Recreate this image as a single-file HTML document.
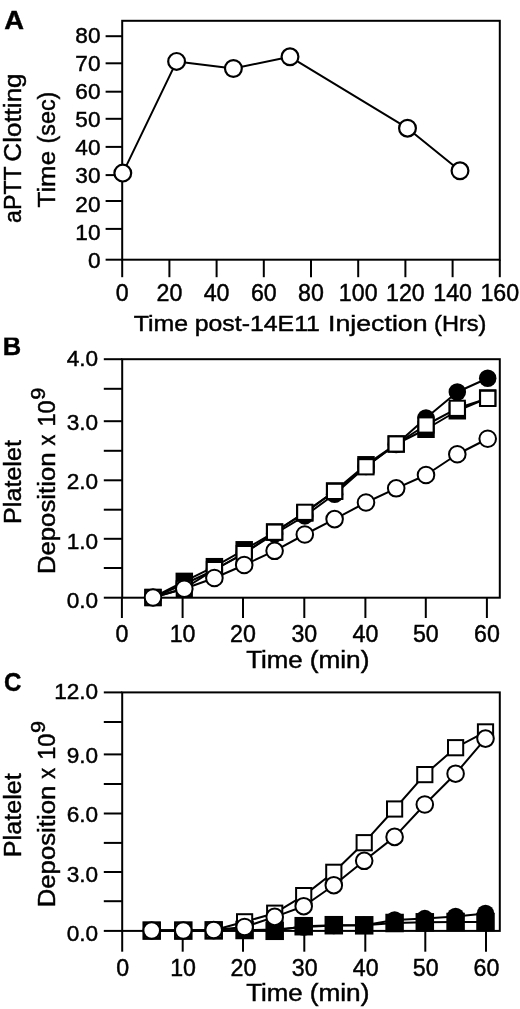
<!DOCTYPE html>
<html><head><meta charset="utf-8"><title>Figure</title>
<style>
html,body{margin:0;padding:0;background:#fff;}
svg{display:block;will-change:transform;}
text{font-family:"Liberation Sans",sans-serif;fill:#000;stroke:#000;stroke-width:0.45px;}
text[font-weight]{stroke-width:0.4px;}
</style></head><body>
<svg width="520" height="1009" viewBox="0 0 520 1009">
<rect x="0" y="0" width="520" height="1009" fill="#fff"/>
<rect x="122.2" y="20.8" width="377.60" height="238.90" fill="none" stroke="#000" stroke-width="2"/>
<line x1="105.60" y1="36.20" x2="122.20" y2="36.20" stroke="#000" stroke-width="2"/>
<text x="100.50" y="43.10" font-size="22.6" text-anchor="end">80</text>
<line x1="105.60" y1="63.30" x2="122.20" y2="63.30" stroke="#000" stroke-width="2"/>
<text x="100.50" y="71.17" font-size="22.6" text-anchor="end">70</text>
<line x1="105.60" y1="91.70" x2="122.20" y2="91.70" stroke="#000" stroke-width="2"/>
<text x="100.50" y="99.24" font-size="22.6" text-anchor="end">60</text>
<line x1="105.60" y1="118.80" x2="122.20" y2="118.80" stroke="#000" stroke-width="2"/>
<text x="100.50" y="127.31" font-size="22.6" text-anchor="end">50</text>
<line x1="105.60" y1="146.90" x2="122.20" y2="146.90" stroke="#000" stroke-width="2"/>
<text x="100.50" y="155.38" font-size="22.6" text-anchor="end">40</text>
<line x1="105.60" y1="175.10" x2="122.20" y2="175.10" stroke="#000" stroke-width="2"/>
<text x="100.50" y="183.45" font-size="22.6" text-anchor="end">30</text>
<line x1="105.60" y1="201.00" x2="122.20" y2="201.00" stroke="#000" stroke-width="2"/>
<text x="100.50" y="211.52" font-size="22.6" text-anchor="end">20</text>
<line x1="105.60" y1="228.90" x2="122.20" y2="228.90" stroke="#000" stroke-width="2"/>
<text x="100.50" y="239.59" font-size="22.6" text-anchor="end">10</text>
<line x1="105.60" y1="259.70" x2="122.20" y2="259.70" stroke="#000" stroke-width="2"/>
<text x="100.50" y="267.66" font-size="22.6" text-anchor="end">0</text>
<line x1="122.20" y1="259.70" x2="122.20" y2="277.20" stroke="#000" stroke-width="2"/>
<text x="122.20" y="301.10" font-size="23.2" text-anchor="middle">0</text>
<line x1="169.40" y1="259.70" x2="169.40" y2="277.20" stroke="#000" stroke-width="2"/>
<text x="169.40" y="301.10" font-size="23.2" text-anchor="middle">20</text>
<line x1="216.60" y1="259.70" x2="216.60" y2="277.20" stroke="#000" stroke-width="2"/>
<text x="216.60" y="301.10" font-size="23.2" text-anchor="middle">40</text>
<line x1="263.80" y1="259.70" x2="263.80" y2="277.20" stroke="#000" stroke-width="2"/>
<text x="263.80" y="301.10" font-size="23.2" text-anchor="middle">60</text>
<line x1="311.00" y1="259.70" x2="311.00" y2="277.20" stroke="#000" stroke-width="2"/>
<text x="311.00" y="301.10" font-size="23.2" text-anchor="middle">80</text>
<line x1="358.20" y1="259.70" x2="358.20" y2="277.20" stroke="#000" stroke-width="2"/>
<text x="358.20" y="301.10" font-size="23.2" text-anchor="middle">100</text>
<line x1="405.40" y1="259.70" x2="405.40" y2="277.20" stroke="#000" stroke-width="2"/>
<text x="405.40" y="301.10" font-size="23.2" text-anchor="middle">120</text>
<line x1="452.60" y1="259.70" x2="452.60" y2="277.20" stroke="#000" stroke-width="2"/>
<text x="452.60" y="301.10" font-size="23.2" text-anchor="middle">140</text>
<line x1="499.80" y1="259.70" x2="499.80" y2="277.20" stroke="#000" stroke-width="2"/>
<text x="499.80" y="301.10" font-size="23.2" text-anchor="middle">160</text>
<text x="133.65" y="331.20" font-size="22.6" textLength="54.43" lengthAdjust="spacingAndGlyphs">Time</text>
<text x="194.71" y="331.20" font-size="22.6" textLength="125.22" lengthAdjust="spacingAndGlyphs">post-14E11</text>
<text x="328.02" y="331.20" font-size="22.6" textLength="99.53" lengthAdjust="spacingAndGlyphs">Injection</text>
<text x="434.14" y="331.20" font-size="22.6" textLength="52.32" lengthAdjust="spacingAndGlyphs">(Hrs)</text>
<text transform="translate(20.50 222.89) rotate(-90)" font-size="23.3" textLength="56.66" lengthAdjust="spacingAndGlyphs">aPTT</text>
<text transform="translate(20.50 161.64) rotate(-90)" font-size="23.3" textLength="88.21" lengthAdjust="spacingAndGlyphs">Clotting</text>
<text transform="translate(54.70 207.45) rotate(-90)" font-size="23.3" textLength="56.48" lengthAdjust="spacingAndGlyphs">Time</text>
<text transform="translate(54.70 143.40) rotate(-90)" font-size="23.3" textLength="51.78" lengthAdjust="spacingAndGlyphs">(sec)</text>
<text x="4.34" y="29.00" font-size="25" textLength="19.77" lengthAdjust="spacingAndGlyphs" font-weight="bold">A</text>
<polyline points="122.80,173.10 176.60,61.40 233.40,68.50 290.00,56.80 407.50,128.20 460.00,170.80" fill="none" stroke="#000" stroke-width="2" stroke-linejoin="round"/>
<circle cx="122.80" cy="173.10" r="8.4" fill="#fff" stroke="#000" stroke-width="2.2"/>
<circle cx="176.60" cy="61.40" r="8.4" fill="#fff" stroke="#000" stroke-width="2.2"/>
<circle cx="233.40" cy="68.50" r="8.4" fill="#fff" stroke="#000" stroke-width="2.2"/>
<circle cx="290.00" cy="56.80" r="8.4" fill="#fff" stroke="#000" stroke-width="2.2"/>
<circle cx="407.50" cy="128.20" r="8.4" fill="#fff" stroke="#000" stroke-width="2.2"/>
<circle cx="460.00" cy="170.80" r="8.4" fill="#fff" stroke="#000" stroke-width="2.2"/>
<rect x="122.2" y="359.20" width="377.60" height="238.50" fill="none" stroke="#000" stroke-width="2"/>
<line x1="103.80" y1="359.20" x2="122.20" y2="359.20" stroke="#000" stroke-width="2"/>
<line x1="103.80" y1="388.80" x2="122.20" y2="388.80" stroke="#000" stroke-width="2"/>
<line x1="103.80" y1="421.20" x2="122.20" y2="421.20" stroke="#000" stroke-width="2"/>
<line x1="103.80" y1="450.80" x2="122.20" y2="450.80" stroke="#000" stroke-width="2"/>
<line x1="103.80" y1="480.30" x2="122.20" y2="480.30" stroke="#000" stroke-width="2"/>
<line x1="103.80" y1="509.70" x2="122.20" y2="509.70" stroke="#000" stroke-width="2"/>
<line x1="103.80" y1="538.80" x2="122.20" y2="538.80" stroke="#000" stroke-width="2"/>
<line x1="103.80" y1="568.00" x2="122.20" y2="568.00" stroke="#000" stroke-width="2"/>
<line x1="103.80" y1="597.70" x2="122.20" y2="597.70" stroke="#000" stroke-width="2"/>
<text x="98.20" y="365.80" font-size="22.6" text-anchor="end">4.0</text>
<text x="98.20" y="430.00" font-size="22.6" text-anchor="end">3.0</text>
<text x="98.20" y="489.20" font-size="22.6" text-anchor="end">2.0</text>
<text x="98.20" y="548.90" font-size="22.6" text-anchor="end">1.0</text>
<text x="98.20" y="608.00" font-size="22.6" text-anchor="end">0.0</text>
<line x1="121.90" y1="597.70" x2="121.90" y2="618.00" stroke="#000" stroke-width="2"/>
<text x="121.90" y="641.80" font-size="23.2" text-anchor="middle">0</text>
<line x1="182.60" y1="597.70" x2="182.60" y2="618.00" stroke="#000" stroke-width="2"/>
<text x="182.60" y="641.80" font-size="23.2" text-anchor="middle">10</text>
<line x1="243.00" y1="597.70" x2="243.00" y2="618.00" stroke="#000" stroke-width="2"/>
<text x="243.00" y="641.80" font-size="23.2" text-anchor="middle">20</text>
<line x1="304.30" y1="597.70" x2="304.30" y2="618.00" stroke="#000" stroke-width="2"/>
<text x="304.30" y="641.80" font-size="23.2" text-anchor="middle">30</text>
<line x1="365.40" y1="597.70" x2="365.40" y2="618.00" stroke="#000" stroke-width="2"/>
<text x="365.40" y="641.80" font-size="23.2" text-anchor="middle">40</text>
<line x1="425.80" y1="597.70" x2="425.80" y2="618.00" stroke="#000" stroke-width="2"/>
<text x="425.80" y="641.80" font-size="23.2" text-anchor="middle">50</text>
<line x1="486.90" y1="597.70" x2="486.90" y2="618.00" stroke="#000" stroke-width="2"/>
<text x="486.90" y="641.80" font-size="23.2" text-anchor="middle">60</text>
<text x="246.15" y="667.50" font-size="23.3" textLength="56.48" lengthAdjust="spacingAndGlyphs">Time</text>
<text x="309.72" y="667.50" font-size="23.3" textLength="59.72" lengthAdjust="spacingAndGlyphs">(min)</text>
<text transform="translate(20.80 523.95) rotate(-90)" font-size="23.3" textLength="83.88" lengthAdjust="spacingAndGlyphs">Platelet</text>
<text transform="translate(54.80 574.10) rotate(-90)" font-size="23.3" textLength="121.65" lengthAdjust="spacingAndGlyphs">Deposition</text>
<text transform="translate(54.80 445.48) rotate(-90)" font-size="23.3" textLength="10.92" lengthAdjust="spacingAndGlyphs">x</text>
<text transform="translate(54.80 426.62) rotate(-90)" font-size="23.3" textLength="26.19" lengthAdjust="spacingAndGlyphs">10</text>
<text transform="translate(45.00 399.86) rotate(-90)" font-size="20.4" textLength="12.06" lengthAdjust="spacingAndGlyphs">9</text>
<text x="2.67" y="354.50" font-size="25" textLength="18.41" lengthAdjust="spacingAndGlyphs" font-weight="bold">B</text>
<rect x="0" y="333" width="30" height="4.6" fill="#fff"/>
<polyline points="153.00,597.50 184.30,584.00 214.40,570.00 244.20,553.00 274.60,534.00 304.80,515.90 334.60,494.30 366.00,466.50 396.20,444.50 426.00,418.00 457.30,392.00 487.70,378.25" fill="none" stroke="#000" stroke-width="2" stroke-linejoin="round"/>
<polyline points="153.00,597.50 184.30,581.40 214.40,566.70 244.20,549.80 274.60,532.00 304.80,513.00 334.60,491.00 366.00,464.80 396.20,444.00 426.00,429.25 457.30,410.75 487.70,398.00" fill="none" stroke="#000" stroke-width="2" stroke-linejoin="round"/>
<circle cx="153.00" cy="597.50" r="8.75" fill="#000"/>
<circle cx="184.30" cy="584.00" r="8.75" fill="#000"/>
<circle cx="214.40" cy="570.00" r="8.75" fill="#000"/>
<circle cx="244.20" cy="553.00" r="8.75" fill="#000"/>
<circle cx="274.60" cy="534.00" r="8.75" fill="#000"/>
<circle cx="304.80" cy="515.90" r="8.75" fill="#000"/>
<circle cx="334.60" cy="494.30" r="8.75" fill="#000"/>
<circle cx="366.00" cy="466.50" r="8.75" fill="#000"/>
<circle cx="396.20" cy="444.50" r="8.75" fill="#000"/>
<circle cx="426.00" cy="418.00" r="8.75" fill="#000"/>
<circle cx="457.30" cy="392.00" r="8.75" fill="#000"/>
<circle cx="487.70" cy="378.25" r="8.75" fill="#000"/>
<rect x="144.25" y="588.75" width="17.5" height="17.5" fill="#000"/>
<rect x="175.55" y="572.65" width="17.5" height="17.5" fill="#000"/>
<rect x="205.65" y="557.95" width="17.5" height="17.5" fill="#000"/>
<rect x="235.45" y="541.05" width="17.5" height="17.5" fill="#000"/>
<rect x="265.85" y="523.25" width="17.5" height="17.5" fill="#000"/>
<rect x="296.05" y="504.25" width="17.5" height="17.5" fill="#000"/>
<rect x="325.85" y="482.25" width="17.5" height="17.5" fill="#000"/>
<rect x="357.25" y="456.05" width="17.5" height="17.5" fill="#000"/>
<rect x="387.45" y="435.25" width="17.5" height="17.5" fill="#000"/>
<rect x="417.25" y="420.50" width="17.5" height="17.5" fill="#000"/>
<rect x="448.55" y="402.00" width="17.5" height="17.5" fill="#000"/>
<rect x="478.95" y="389.25" width="17.5" height="17.5" fill="#000"/>
<polyline points="153.00,597.50 184.30,588.50 214.40,569.60 244.20,553.60 274.60,532.20 304.80,512.30 334.60,491.40 366.00,466.80 396.20,444.00 426.00,425.00 457.30,408.30 487.70,398.40" fill="none" stroke="#000" stroke-width="2" stroke-linejoin="round"/>
<rect x="145.40" y="589.90" width="15.2" height="15.2" fill="#fff" stroke="#000" stroke-width="2"/>
<rect x="176.70" y="580.90" width="15.2" height="15.2" fill="#fff" stroke="#000" stroke-width="2"/>
<rect x="206.80" y="562.00" width="15.2" height="15.2" fill="#fff" stroke="#000" stroke-width="2"/>
<rect x="236.60" y="546.00" width="15.2" height="15.2" fill="#fff" stroke="#000" stroke-width="2"/>
<rect x="267.00" y="524.60" width="15.2" height="15.2" fill="#fff" stroke="#000" stroke-width="2"/>
<rect x="297.20" y="504.70" width="15.2" height="15.2" fill="#fff" stroke="#000" stroke-width="2"/>
<rect x="327.00" y="483.80" width="15.2" height="15.2" fill="#fff" stroke="#000" stroke-width="2"/>
<rect x="358.40" y="459.20" width="15.2" height="15.2" fill="#fff" stroke="#000" stroke-width="2"/>
<rect x="388.60" y="436.40" width="15.2" height="15.2" fill="#fff" stroke="#000" stroke-width="2"/>
<rect x="418.40" y="417.40" width="15.2" height="15.2" fill="#fff" stroke="#000" stroke-width="2"/>
<rect x="449.70" y="400.70" width="15.2" height="15.2" fill="#fff" stroke="#000" stroke-width="2"/>
<rect x="480.10" y="390.80" width="15.2" height="15.2" fill="#fff" stroke="#000" stroke-width="2"/>
<polyline points="153.00,597.50 184.30,588.75 214.40,578.00 244.20,565.00 274.60,550.80 304.80,534.50 334.60,519.10 366.00,502.50 396.20,488.30 426.00,475.00 457.30,454.25 487.70,438.75" fill="none" stroke="#000" stroke-width="2" stroke-linejoin="round"/>
<circle cx="153.00" cy="597.50" r="8.3" fill="#fff" stroke="#000" stroke-width="2"/>
<circle cx="184.30" cy="588.75" r="8.3" fill="#fff" stroke="#000" stroke-width="2"/>
<circle cx="214.40" cy="578.00" r="8.3" fill="#fff" stroke="#000" stroke-width="2"/>
<circle cx="244.20" cy="565.00" r="8.3" fill="#fff" stroke="#000" stroke-width="2"/>
<circle cx="274.60" cy="550.80" r="8.3" fill="#fff" stroke="#000" stroke-width="2"/>
<circle cx="304.80" cy="534.50" r="8.3" fill="#fff" stroke="#000" stroke-width="2"/>
<circle cx="334.60" cy="519.10" r="8.3" fill="#fff" stroke="#000" stroke-width="2"/>
<circle cx="366.00" cy="502.50" r="8.3" fill="#fff" stroke="#000" stroke-width="2"/>
<circle cx="396.20" cy="488.30" r="8.3" fill="#fff" stroke="#000" stroke-width="2"/>
<circle cx="426.00" cy="475.00" r="8.3" fill="#fff" stroke="#000" stroke-width="2"/>
<circle cx="457.30" cy="454.25" r="8.3" fill="#fff" stroke="#000" stroke-width="2"/>
<circle cx="487.70" cy="438.75" r="8.3" fill="#fff" stroke="#000" stroke-width="2"/>
<rect x="122.2" y="692.40" width="377.60" height="238.50" fill="none" stroke="#000" stroke-width="2"/>
<line x1="103.80" y1="692.40" x2="122.20" y2="692.40" stroke="#000" stroke-width="2"/>
<line x1="103.80" y1="722.00" x2="122.20" y2="722.00" stroke="#000" stroke-width="2"/>
<line x1="103.80" y1="754.40" x2="122.20" y2="754.40" stroke="#000" stroke-width="2"/>
<line x1="103.80" y1="784.00" x2="122.20" y2="784.00" stroke="#000" stroke-width="2"/>
<line x1="103.80" y1="813.50" x2="122.20" y2="813.50" stroke="#000" stroke-width="2"/>
<line x1="103.80" y1="842.90" x2="122.20" y2="842.90" stroke="#000" stroke-width="2"/>
<line x1="103.80" y1="872.00" x2="122.20" y2="872.00" stroke="#000" stroke-width="2"/>
<line x1="103.80" y1="901.20" x2="122.20" y2="901.20" stroke="#000" stroke-width="2"/>
<line x1="103.80" y1="930.90" x2="122.20" y2="930.90" stroke="#000" stroke-width="2"/>
<text x="98.20" y="699.00" font-size="22.6" text-anchor="end">12.0</text>
<text x="98.20" y="763.20" font-size="22.6" text-anchor="end">9.0</text>
<text x="98.20" y="822.40" font-size="22.6" text-anchor="end">6.0</text>
<text x="98.20" y="882.10" font-size="22.6" text-anchor="end">3.0</text>
<text x="98.20" y="941.20" font-size="22.6" text-anchor="end">0.0</text>
<line x1="122.20" y1="930.90" x2="122.20" y2="951.70" stroke="#000" stroke-width="2"/>
<text x="122.60" y="975.50" font-size="23.2" text-anchor="middle">0</text>
<line x1="182.70" y1="930.90" x2="182.70" y2="951.70" stroke="#000" stroke-width="2"/>
<text x="183.10" y="975.50" font-size="23.2" text-anchor="middle">10</text>
<line x1="243.00" y1="930.90" x2="243.00" y2="951.70" stroke="#000" stroke-width="2"/>
<text x="243.40" y="975.50" font-size="23.2" text-anchor="middle">20</text>
<line x1="304.30" y1="930.90" x2="304.30" y2="951.70" stroke="#000" stroke-width="2"/>
<text x="304.70" y="975.50" font-size="23.2" text-anchor="middle">30</text>
<line x1="365.30" y1="930.90" x2="365.30" y2="951.70" stroke="#000" stroke-width="2"/>
<text x="365.70" y="975.50" font-size="23.2" text-anchor="middle">40</text>
<line x1="425.30" y1="930.90" x2="425.30" y2="951.70" stroke="#000" stroke-width="2"/>
<text x="425.70" y="975.50" font-size="23.2" text-anchor="middle">50</text>
<line x1="486.00" y1="930.90" x2="486.00" y2="951.70" stroke="#000" stroke-width="2"/>
<text x="486.40" y="975.50" font-size="23.2" text-anchor="middle">60</text>
<text x="246.15" y="1000.70" font-size="23.3" textLength="56.48" lengthAdjust="spacingAndGlyphs">Time</text>
<text x="309.72" y="1000.70" font-size="23.3" textLength="59.72" lengthAdjust="spacingAndGlyphs">(min)</text>
<text transform="translate(20.80 857.15) rotate(-90)" font-size="23.3" textLength="83.88" lengthAdjust="spacingAndGlyphs">Platelet</text>
<text transform="translate(54.80 907.30) rotate(-90)" font-size="23.3" textLength="121.65" lengthAdjust="spacingAndGlyphs">Deposition</text>
<text transform="translate(54.80 778.68) rotate(-90)" font-size="23.3" textLength="10.92" lengthAdjust="spacingAndGlyphs">x</text>
<text transform="translate(54.80 759.82) rotate(-90)" font-size="23.3" textLength="26.19" lengthAdjust="spacingAndGlyphs">10</text>
<text transform="translate(45.00 733.06) rotate(-90)" font-size="20.4" textLength="12.06" lengthAdjust="spacingAndGlyphs">9</text>
<text x="4.04" y="691.30" font-size="25" textLength="17.39" lengthAdjust="spacingAndGlyphs" font-weight="bold">C</text>
<polyline points="151.70,930.50 183.30,930.50 213.70,930.50 244.60,930.30 274.70,929.50 303.70,927.00 333.80,925.50 364.20,925.30 394.60,920.00 424.80,918.60 455.60,916.40 485.50,913.40" fill="none" stroke="#000" stroke-width="2" stroke-linejoin="round"/>
<polyline points="151.70,930.60 183.30,930.60 213.70,930.40 244.60,930.00 274.70,930.80 303.70,926.20 333.80,925.20 364.20,925.30 394.60,923.00 424.80,922.30 455.60,922.00 485.50,922.00" fill="none" stroke="#000" stroke-width="2" stroke-linejoin="round"/>
<circle cx="151.70" cy="930.50" r="8.75" fill="#000"/>
<circle cx="183.30" cy="930.50" r="8.75" fill="#000"/>
<circle cx="213.70" cy="930.50" r="8.75" fill="#000"/>
<circle cx="244.60" cy="930.30" r="8.75" fill="#000"/>
<circle cx="274.70" cy="929.50" r="8.75" fill="#000"/>
<circle cx="303.70" cy="927.00" r="8.75" fill="#000"/>
<circle cx="333.80" cy="925.50" r="8.75" fill="#000"/>
<circle cx="364.20" cy="925.30" r="8.75" fill="#000"/>
<circle cx="394.60" cy="920.00" r="8.75" fill="#000"/>
<circle cx="424.80" cy="918.60" r="8.75" fill="#000"/>
<circle cx="455.60" cy="916.40" r="8.75" fill="#000"/>
<circle cx="485.50" cy="913.40" r="8.75" fill="#000"/>
<rect x="142.45" y="921.35" width="18.5" height="18.5" fill="#000"/>
<rect x="174.05" y="921.35" width="18.5" height="18.5" fill="#000"/>
<rect x="204.45" y="921.15" width="18.5" height="18.5" fill="#000"/>
<rect x="235.35" y="920.75" width="18.5" height="18.5" fill="#000"/>
<rect x="265.45" y="921.55" width="18.5" height="18.5" fill="#000"/>
<rect x="294.45" y="916.95" width="18.5" height="18.5" fill="#000"/>
<rect x="324.55" y="915.95" width="18.5" height="18.5" fill="#000"/>
<rect x="354.95" y="916.05" width="18.5" height="18.5" fill="#000"/>
<rect x="385.35" y="913.75" width="18.5" height="18.5" fill="#000"/>
<rect x="415.55" y="913.05" width="18.5" height="18.5" fill="#000"/>
<rect x="446.35" y="912.75" width="18.5" height="18.5" fill="#000"/>
<rect x="476.25" y="912.75" width="18.5" height="18.5" fill="#000"/>
<polyline points="151.70,930.50 183.30,930.50 213.70,930.30 244.60,921.80 274.70,913.20 303.70,895.60 333.80,872.30 364.20,842.70 394.60,809.00 424.80,774.60 455.60,747.70 485.50,731.90" fill="none" stroke="#000" stroke-width="2" stroke-linejoin="round"/>
<rect x="144.10" y="922.90" width="15.2" height="15.2" fill="#fff" stroke="#000" stroke-width="2"/>
<rect x="175.70" y="922.90" width="15.2" height="15.2" fill="#fff" stroke="#000" stroke-width="2"/>
<rect x="206.10" y="922.70" width="15.2" height="15.2" fill="#fff" stroke="#000" stroke-width="2"/>
<rect x="237.00" y="914.20" width="15.2" height="15.2" fill="#fff" stroke="#000" stroke-width="2"/>
<rect x="267.10" y="905.60" width="15.2" height="15.2" fill="#fff" stroke="#000" stroke-width="2"/>
<rect x="296.10" y="888.00" width="15.2" height="15.2" fill="#fff" stroke="#000" stroke-width="2"/>
<rect x="326.20" y="864.70" width="15.2" height="15.2" fill="#fff" stroke="#000" stroke-width="2"/>
<rect x="356.60" y="835.10" width="15.2" height="15.2" fill="#fff" stroke="#000" stroke-width="2"/>
<rect x="387.00" y="801.40" width="15.2" height="15.2" fill="#fff" stroke="#000" stroke-width="2"/>
<rect x="417.20" y="767.00" width="15.2" height="15.2" fill="#fff" stroke="#000" stroke-width="2"/>
<rect x="448.00" y="740.10" width="15.2" height="15.2" fill="#fff" stroke="#000" stroke-width="2"/>
<rect x="477.90" y="724.30" width="15.2" height="15.2" fill="#fff" stroke="#000" stroke-width="2"/>
<polyline points="151.70,930.50 183.30,930.50 213.70,930.00 244.60,927.00 274.70,916.90 303.70,906.20 333.80,885.20 364.20,860.80 394.60,836.90 424.80,804.50 455.60,773.70 485.50,738.60" fill="none" stroke="#000" stroke-width="2" stroke-linejoin="round"/>
<circle cx="151.70" cy="930.50" r="8.3" fill="#fff" stroke="#000" stroke-width="2"/>
<circle cx="183.30" cy="930.50" r="8.3" fill="#fff" stroke="#000" stroke-width="2"/>
<circle cx="213.70" cy="930.00" r="8.3" fill="#fff" stroke="#000" stroke-width="2"/>
<circle cx="244.60" cy="927.00" r="8.3" fill="#fff" stroke="#000" stroke-width="2"/>
<circle cx="274.70" cy="916.90" r="8.3" fill="#fff" stroke="#000" stroke-width="2"/>
<circle cx="303.70" cy="906.20" r="8.3" fill="#fff" stroke="#000" stroke-width="2"/>
<circle cx="333.80" cy="885.20" r="8.3" fill="#fff" stroke="#000" stroke-width="2"/>
<circle cx="364.20" cy="860.80" r="8.3" fill="#fff" stroke="#000" stroke-width="2"/>
<circle cx="394.60" cy="836.90" r="8.3" fill="#fff" stroke="#000" stroke-width="2"/>
<circle cx="424.80" cy="804.50" r="8.3" fill="#fff" stroke="#000" stroke-width="2"/>
<circle cx="455.60" cy="773.70" r="8.3" fill="#fff" stroke="#000" stroke-width="2"/>
<circle cx="485.50" cy="738.60" r="8.3" fill="#fff" stroke="#000" stroke-width="2"/>
</svg>
</body></html>
